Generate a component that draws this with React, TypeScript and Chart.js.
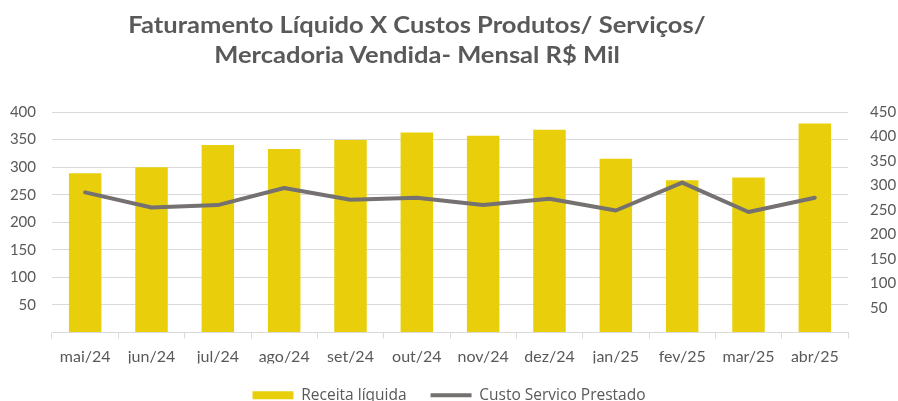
import React, { useEffect, useRef } from "react";
import { Chart, registerables } from "chart.js";

Chart.register(...registerables);

const categories = ["mai/24", "jun/24", "jul/24", "ago/24", "set/24", "out/24", "nov/24", "dez/24", "jan/25", "fev/25", "mar/25", "abr/25"];
const receitaLiquida = [289, 300, 340, 333, 349, 363, 357, 368, 315, 276, 281, 379];
const custoServico = [286, 255, 260, 295, 271, 275, 260, 273, 249, 306, 246, 275];
const titleLines = ["Faturamento Líquido X Custos Produtos/ Serviços/", "Mercadoria Vendida- Mensal R$ Mil"];
const seriesNames = ["Receita líquida", "Custo Servico Prestado"];

const FONT = "Lato, 'Noto Sans', sans-serif";
const LEGEND_FONT = "'Open Sans', 'Noto Sans', sans-serif";
const TEXT = "#595959";
const GRID = "#d9d9d9";

export default function App() {
  const ref = useRef<HTMLCanvasElement | null>(null);

  useEffect(() => {
    if (!ref.current) return;
    const chart = new Chart(ref.current, {
      type: "bar",
      data: {
        labels: categories,
        datasets: [
          {
            type: "bar",
            label: seriesNames[0],
            data: receitaLiquida,
            backgroundColor: "#E9CF0B",
            borderWidth: 0,
            categoryPercentage: 0.49,
            barPercentage: 1,
            yAxisID: "y",
            order: 1,
            pointStyle: "rect",
          } as any,
          {
            type: "line",
            label: seriesNames[1],
            data: custoServico,
            borderColor: "#767171",
            backgroundColor: "#767171",
            borderWidth: 4,
            borderCapStyle: "round",
            borderJoinStyle: "round",
            pointRadius: 0,
            tension: 0,
            yAxisID: "y1",
            order: 0,
            pointStyle: "line",
          } as any,
        ],
      },
      options: {
        animation: false,
        responsive: false,
        maintainAspectRatio: false,
        layout: { padding: { top: 112, left: 0, right: 0, bottom: 0 } },
        plugins: {
          title: { display: false },
          tooltip: { enabled: false },
          legend: {
            position: "bottom",
            labels: {
              usePointStyle: true,
              pointStyleWidth: 41,
              boxHeight: 8,
              padding: 24,
              color: TEXT,
              font: { family: LEGEND_FONT, size: 15.5 },
              sort: (a: any, b: any) => a.datasetIndex - b.datasetIndex,
            },
          },
        },
        scales: {
          x: {
            grid: {
              offset: true,
              drawOnChartArea: false,
              drawTicks: true,
              tickLength: 6,
              color: GRID,
            },
            border: { display: true, color: GRID, width: 1 },
            ticks: { color: TEXT, font: { family: FONT, size: 16 }, padding: 9, maxRotation: 0 },
            afterFit: (s: any) => {
              s.height = 31;
            },
          },
          y: {
            position: "left",
            min: 0,
            max: 400,
            ticks: {
              stepSize: 50,
              color: TEXT,
              font: { family: FONT, size: 15 },
              padding: 16,
              callback: (v: any) => (v === 0 ? "" : v),
            },
            grid: { color: GRID, drawTicks: false, lineWidth: 1 },
            border: { display: false },
            afterFit: (s: any) => {
              s.width = 52;
            },
          },
          y1: {
            position: "right",
            min: 0,
            max: 450,
            ticks: {
              stepSize: 50,
              color: TEXT,
              font: { family: FONT, size: 15 },
              padding: 22,
              callback: (v: any) => (v === 0 ? "" : v),
            },
            grid: { drawOnChartArea: false, drawTicks: false },
            border: { display: false },
            afterFit: (s: any) => {
              s.width = 50;
            },
          },
        },
      },
    });
    return () => chart.destroy();
  }, []);

  return (
    <div style={{ position: "fixed", left: 0, top: 0, width: 898, height: 401, overflow: "hidden", background: "#fff" }}>
      <canvas ref={ref} width={898} height={413} style={{ position: "absolute", left: 0, top: 0, width: 898, height: 413 }} />
      <div
        style={{
          position: "absolute",
          left: 0,
          top: 10,
          width: 834,
          textAlign: "center",
          fontFamily: FONT,
          fontWeight: 700,
          fontSize: 22,
          lineHeight: "30px",
          color: TEXT,
        }}
      >
        {titleLines.map((t) => (
          <div key={t} style={{ transform: "scaleX(1.16)", whiteSpace: "nowrap" }}>
            {t}
          </div>
        ))}
      </div>
    </div>
  );
}
